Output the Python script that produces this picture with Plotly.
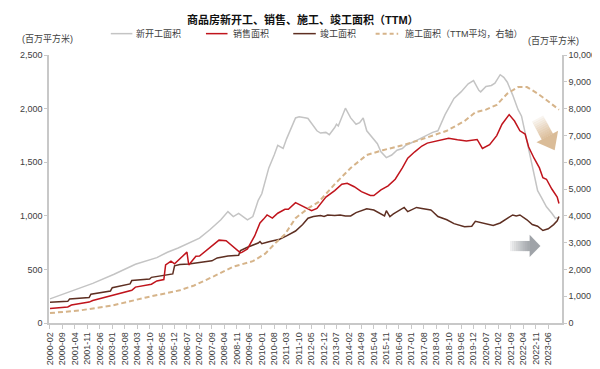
import plotly.graph_objects as go

title_text = "商品房新开工、销售、施工、竣工面积（TTM）"
unit_text = "(百万平方米)"
legend_names = ["新开工面积", "销售面积", "竣工面积", "施工面积（TTM平均，右轴）"]

x_ticks = ["2000-02", "2000-09", "2001-04", "2001-11", "2002-06", "2003-01", "2003-08",
           "2004-03", "2004-10", "2005-05", "2005-12", "2006-07", "2007-02", "2007-09",
           "2008-04", "2008-11", "2009-06", "2010-01", "2010-08", "2011-03", "2011-10",
           "2012-05", "2012-12", "2013-07", "2014-02", "2014-09", "2015-04", "2015-11",
           "2016-06", "2017-01", "2017-08", "2018-03", "2018-10", "2019-05", "2019-12",
           "2020-07", "2021-02", "2021-09", "2022-04", "2022-11", "2023-06"]

# 新开工面积 (left axis)
new_start_dates = ["2000-02", "2001-02", "2002-02", "2003-02", "2004-02", "2005-02", "2005-08",
                   "2006-02", "2006-09", "2007-02", "2007-08", "2008-02", "2008-06", "2008-09",
                   "2008-12", "2009-05", "2009-08", "2009-11", "2010-01", "2010-05", "2010-08",
                   "2010-10", "2011-01", "2011-03", "2011-08", "2011-10", "2012-02", "2012-03",
                   "2012-08", "2012-10", "2013-01", "2013-03", "2013-06", "2013-07", "2013-08",
                   "2013-10", "2013-12", "2014-03", "2014-06", "2014-08", "2014-10", "2014-12",
                   "2015-03", "2015-06", "2015-08", "2015-11", "2016-02", "2016-05", "2016-08",
                   "2016-10", "2017-02", "2017-06", "2017-09", "2018-01", "2018-04", "2018-08",
                   "2019-01", "2019-05", "2019-09", "2019-12", "2020-03", "2020-04", "2020-07",
                   "2020-10", "2020-12", "2021-03", "2021-05", "2021-07", "2021-10", "2022-01",
                   "2022-03", "2022-06", "2022-09", "2022-12", "2023-02", "2023-05", "2023-08",
                   "2023-10", "2023-12"]
new_start_vals = [225, 300, 370, 455, 548, 610, 660,
                  700, 752, 791, 872, 963, 1039, 993,
                  1023, 963, 993, 1144, 1205, 1447, 1567,
                  1658, 1628, 1718, 1913, 1923, 1913, 1908,
                  1793, 1772, 1778, 1757, 1823, 1854, 1838,
                  1913, 2004, 1913, 1854, 1869, 1913, 1793,
                  1733, 1673, 1597, 1543, 1567, 1612, 1628,
                  1658, 1688, 1718, 1748, 1778, 1793, 1944,
                  2095, 2156, 2231, 2261, 2171, 2156, 2207,
                  2216, 2237, 2316, 2292, 2246, 2126, 1990,
                  1929, 1688, 1476, 1235, 1175, 1084, 1024,
                  978, 985]

# 销售面积 (left axis)
sales_dates = ["2000-02", "2000-12", "2001-02", "2001-12", "2002-02", "2002-12", "2003-12",
               "2004-02", "2004-11", "2005-02", "2005-06", "2005-07", "2005-10", "2005-12",
               "2006-03", "2006-07", "2006-08", "2006-10", "2006-12", "2007-02", "2007-06",
               "2008-01", "2008-05", "2008-08", "2009-01", "2009-02", "2009-05", "2009-09",
               "2009-12", "2010-02", "2010-04", "2010-07", "2010-10", "2011-02", "2011-04",
               "2011-08", "2011-11", "2012-02", "2012-05", "2012-08", "2013-01", "2013-06",
               "2013-10", "2014-01", "2014-05", "2014-09", "2015-02", "2015-04", "2015-08",
               "2015-12", "2016-04", "2016-08", "2016-11", "2017-03", "2017-07", "2017-10",
               "2018-02", "2018-05", "2018-10", "2019-03", "2019-08", "2020-02", "2020-05",
               "2020-09", "2021-01", "2021-04", "2021-08", "2021-11", "2022-02", "2022-05",
               "2022-07", "2022-10", "2023-01", "2023-03", "2023-05", "2023-08", "2023-11",
               "2023-12"]
sales_vals = [136, 150, 168, 195, 210, 255, 305,
              335, 362, 392, 405, 541, 577, 552,
              600, 661, 541, 577, 622, 625, 676,
              773, 767, 722, 655, 661, 691, 812,
              933, 969, 1008, 978, 1024, 1060, 1060,
              1123, 1099, 1078, 1048, 1069, 1175, 1235,
              1295, 1304, 1271, 1226, 1189, 1189, 1241,
              1280, 1341, 1447, 1537, 1597, 1651, 1678,
              1694, 1703, 1724, 1709, 1697, 1712, 1628,
              1664, 1748, 1854, 1944, 1884, 1793, 1763,
              1642, 1537, 1447, 1356, 1341, 1250, 1175,
              1115]

# 竣工面积 (left axis)
completion_dates = ["2000-02", "2000-12", "2001-01", "2001-12", "2002-01", "2002-12", "2003-01",
                    "2003-11", "2003-12", "2004-10", "2004-11", "2005-11", "2005-12", "2006-03",
                    "2006-08", "2007-02", "2007-09", "2007-12", "2008-06", "2008-12", "2009-01",
                    "2009-05", "2009-11", "2009-12", "2010-01", "2010-05", "2010-11", "2011-03",
                    "2011-08", "2011-12", "2012-03", "2012-06", "2012-10", "2012-12", "2013-02",
                    "2013-06", "2013-09", "2013-12", "2014-03", "2014-06", "2014-09", "2014-12",
                    "2015-04", "2015-08", "2015-10", "2015-11", "2016-01", "2016-03", "2016-07",
                    "2016-09", "2016-11", "2017-04", "2017-07", "2017-12", "2018-01", "2018-04",
                    "2018-09", "2019-01", "2019-07", "2019-11", "2020-01", "2020-06", "2020-11",
                    "2021-03", "2021-07", "2021-10", "2021-12", "2022-02", "2022-06", "2022-09",
                    "2022-12", "2023-03", "2023-06", "2023-09", "2023-11", "2023-12"]
completion_vals = [193, 202, 224, 238, 269, 299, 329,
                   365, 396, 410, 426, 458, 534, 546,
                   550, 562, 580, 607, 625, 631, 676,
                   707, 746, 760, 740, 758, 782, 812,
                   858, 918, 978, 993, 1003, 993, 1008,
                   1003, 1008, 999, 999, 1030, 1048, 1066,
                   1054, 1014, 999, 1048, 993, 1017, 1054,
                   1078, 1039, 1078, 1069, 1054, 1040, 993,
                   963, 927, 897, 903, 948, 927, 909,
                   933, 978, 1008, 999, 1008, 963, 918,
                   903, 863, 879, 918, 954, 993]

# 施工面积 (TTM平均, right axis)
construction_dates = ["2000-02", "2001-07", "2003-01", "2004-08", "2006-03", "2006-11", "2007-10",
                      "2008-09", "2009-08", "2010-03", "2010-09", "2011-02", "2011-08", "2012-03",
                      "2012-09", "2013-06", "2014-03", "2014-12", "2015-09", "2016-08", "2017-05",
                      "2018-02", "2018-09", "2019-07", "2020-01", "2020-07", "2021-01", "2021-07",
                      "2022-01", "2022-06", "2022-12", "2023-05", "2023-12"]
construction_vals = [370, 471, 652, 954, 1220, 1401, 1739,
                     2101, 2307, 2585, 3007, 3308, 3913, 4275,
                     4517, 5181, 5785, 6268, 6449, 6630, 6812,
                     7017, 7174, 7536, 7862, 7960, 8141, 8562,
                     8804, 8804, 8562, 8322, 7960]

left_ticks = [0, 500, 1000, 1500, 2000, 2500]
right_ticks = [0, 1000, 2000, 3000, 4000, 5000, 6000, 7000, 8000, 9000, 10000]

C_NEW = "#c4c4c4"
C_SALES = "#c0141c"
C_COMP = "#5e2f22"
C_CONS = "#d6b48a"
AXIS = "#c8c8c8"
TXT = "#404040"
FONT = "Liberation Sans, Arial, Noto Sans CJK SC, sans-serif"

W, H = 600, 369
L, R, T, B = 41, 36, 47, 46


def px(x):
    return (x - L) / (W - L - R)


def py(y):
    return (H - B - y) / (H - T - B)


fig = go.Figure()
fig.add_trace(go.Scatter(x=new_start_dates, y=new_start_vals, mode="lines",
                         line=dict(color=C_NEW, width=1.5), showlegend=False))
fig.add_trace(go.Scatter(x=completion_dates, y=completion_vals, mode="lines",
                         line=dict(color=C_COMP, width=1.5), showlegend=False))
fig.add_trace(go.Scatter(x=sales_dates, y=sales_vals, mode="lines",
                         line=dict(color=C_SALES, width=1.5), showlegend=False))
fig.add_trace(go.Scatter(x=construction_dates, y=construction_vals, mode="lines", yaxis="y2",
                         line=dict(color=C_CONS, width=2, dash="5px,3px"), showlegend=False))

shapes = []
annotations = []

# manual legend
leg_y = 25
leg_items = [(104, 126, C_NEW, "solid", 128), (201, 223, C_SALES, "solid", 227),
             (290, 313, C_COMP, "solid", 315), (374, 397, C_CONS, "dash", 402)]
for (x0, x1, col, dash, tx), name in zip(leg_items, legend_names):
    shapes.append(dict(type="line", xref="paper", yref="paper", x0=px(x0), x1=px(x1),
                       y0=py(leg_y), y1=py(leg_y),
                       line=dict(color=col, width=1.5 if dash == "solid" else 2,
                                 dash="solid" if dash == "solid" else "4px,3px")))
    annotations.append(dict(xref="paper", yref="paper", x=px(tx), y=py(leg_y), text=name,
                            showarrow=False, xanchor="left", yanchor="middle",
                            font=dict(size=9, color=TXT)))

annotations.append(dict(xref="paper", yref="paper", x=px(300), y=py(10), text="<b>" + title_text + "</b>",
                        showarrow=False, xanchor="center", yanchor="middle",
                        font=dict(size=11, color="#111111")))
annotations.append(dict(xref="paper", yref="paper", x=px(11), y=py(30), text=unit_text,
                        showarrow=False, xanchor="left", yanchor="middle",
                        font=dict(size=9, color=TXT)))
annotations.append(dict(xref="paper", yref="paper", x=px(527), y=py(32), text=unit_text,
                        showarrow=False, xanchor="left", yanchor="middle",
                        font=dict(size=9, color=TXT)))

# gray arrow (pointing right), gradient body
n = 10
bx0, bx1 = 511, 531
for i in range(n):
    xa = bx0 + (bx1 - bx0) * i / n
    xb = bx0 + (bx1 - bx0) * (i + 1) / n + 0.3
    shapes.append(dict(type="rect", xref="paper", yref="paper", x0=px(xa), x1=px(xb),
                       y0=py(249), y1=py(238.5), line=dict(width=0),
                       fillcolor="#9a9ea3", opacity=0.08 + 0.8 * (i + 1) / n))
shapes.append(dict(type="path", xref="paper", yref="paper",
                   path=f"M{px(531)},{py(232)} L{px(542)},{py(243.7)} L{px(531)},{py(255)} Z",
                   line=dict(width=0), fillcolor="#9a9ea3", opacity=0.95))

# tan arrow (pointing down-right), gradient body
tip = (556.5, 145.0)
bc = (549.0, 131.0)
dx, dy = tip[0] - bc[0], tip[1] - bc[1]
ln = (dx * dx + dy * dy) ** 0.5
ux, uy = dx / ln, dy / ln
pxv, pyv = uy, -ux
hw_head, hw_body, blen = 12.5, 6.5, 21
for i in range(n):
    s0 = blen * (1 - i / n)
    s1 = blen * (1 - (i + 1) / n) - 0.3
    c0 = (bc[0] - ux * s0, bc[1] - uy * s0)
    c1 = (bc[0] - ux * s1, bc[1] - uy * s1)
    pts = [(c0[0] + pxv * hw_body, c0[1] + pyv * hw_body), (c1[0] + pxv * hw_body, c1[1] + pyv * hw_body),
           (c1[0] - pxv * hw_body, c1[1] - pyv * hw_body), (c0[0] - pxv * hw_body, c0[1] - pyv * hw_body)]
    path = "M" + " L".join(f"{px(a)},{py(b)}" for a, b in pts) + " Z"
    shapes.append(dict(type="path", xref="paper", yref="paper", path=path, line=dict(width=0),
                       fillcolor="#d8b892", opacity=0.06 + 0.8 * (i + 1) / n))
hp = [(bc[0] + pxv * hw_head, bc[1] + pyv * hw_head), tip, (bc[0] - pxv * hw_head, bc[1] - pyv * hw_head)]
shapes.append(dict(type="path", xref="paper", yref="paper",
                   path="M" + " L".join(f"{px(a)},{py(b)}" for a, b in hp) + " Z",
                   line=dict(width=0), fillcolor="#d8b892", opacity=0.95))

fig.update_layout(
    width=W, height=H,
    margin=dict(l=L, r=R, t=T, b=B),
    paper_bgcolor="white", plot_bgcolor="white",
    font=dict(family=FONT, size=9, color=TXT),
    showlegend=False,
    shapes=shapes, annotations=annotations,
    xaxis=dict(type="date", range=["2000-01-15", "2024-01-22"], tickmode="array",
               tickvals=x_ticks, ticktext=x_ticks, tickangle=-90,
               tickfont=dict(size=9, color=TXT), showgrid=False, zeroline=False,
               showline=True, linecolor=AXIS, linewidth=1.5,
               ticks="outside", ticklen=4, tickcolor=AXIS, tickwidth=1),
    yaxis=dict(range=[0, 2500], tickmode="array", tickvals=left_ticks,
               ticktext=[f"{v:,}" for v in left_ticks], showgrid=False, zeroline=False,
               showline=True, linecolor=AXIS, linewidth=1.5,
               ticks="outside", ticklen=3, tickcolor=AXIS, tickfont=dict(size=9, color=TXT)),
    yaxis2=dict(range=[0, 10000], overlaying="y", side="right", tickmode="array",
                tickvals=right_ticks, ticktext=[f"{v:,}" for v in right_ticks],
                showgrid=False, zeroline=False, showline=True, linecolor=AXIS, linewidth=1.5,
                ticks="outside", ticklen=3, tickcolor=AXIS, tickfont=dict(size=9, color=TXT)),
)

fig.write_html("out.html")
